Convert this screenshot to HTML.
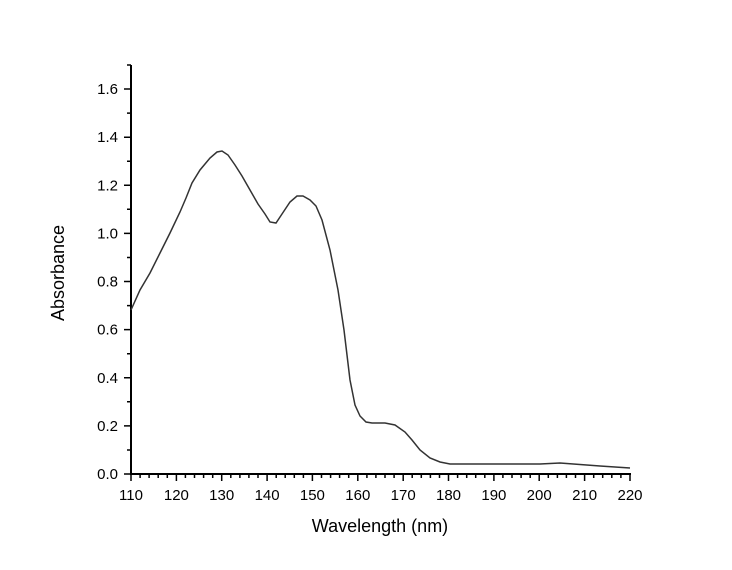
<!DOCTYPE html>
<html><head><style>body{margin:0;background:#fff}svg{display:block}</style></head><body>
<svg width="732" height="570" xmlns="http://www.w3.org/2000/svg" font-family="Liberation Sans, sans-serif">
<rect width="732" height="570" fill="#fff"/>
<g stroke="#000" stroke-width="2" fill="none">
<line x1="131" y1="65" x2="131" y2="475"/>
<line x1="130" y1="474" x2="631" y2="474"/>
</g>
<g stroke="#000" stroke-width="1.5" fill="none">
<path d="M131,474V481M176.4,474V481M221.7,474V481M267.1,474V481M312.4,474V481M357.8,474V481M403.2,474V481M448.5,474V481M493.9,474V481M539.2,474V481M584.6,474V481M630,474V481"/>
<path d="M140.1,474V478M149.1,474V478M158.2,474V478M167.3,474V478M185.4,474V478M194.5,474V478M203.6,474V478M212.7,474V478M230.8,474V478M239.9,474V478M248.9,474V478M258,474V478M276.2,474V478M285.2,474V478M294.3,474V478M303.4,474V478M321.5,474V478M330.6,474V478M339.6,474V478M348.7,474V478M366.9,474V478M375.9,474V478M385,474V478M394.1,474V478M412.2,474V478M421.3,474V478M430.4,474V478M439.5,474V478M457.6,474V478M466.7,474V478M475.7,474V478M484.8,474V478M502.9,474V478M512,474V478M521.1,474V478M530.2,474V478M548.3,474V478M557.4,474V478M566.4,474V478M575.5,474V478M593.7,474V478M602.7,474V478M611.8,474V478M620.9,474V478"/>
<path d="M124,474H131M124,425.9H131M124,377.8H131M124,329.6H131M124,281.5H131M124,233.4H131M124,185.3H131M124,137.2H131M124,89H131"/>
<path d="M127,450H131M127,401.8H131M127,353.7H131M127,305.6H131M127,257.5H131M127,209.3H131M127,161.2H131M127,113.1H131M127,65H131"/>
</g>
<g font-size="15" fill="#000" text-anchor="end">
<text x="118" y="479">0.0</text>
<text x="118" y="430.9">0.2</text>
<text x="118" y="382.8">0.4</text>
<text x="118" y="334.6">0.6</text>
<text x="118" y="286.5">0.8</text>
<text x="118" y="238.4">1.0</text>
<text x="118" y="190.3">1.2</text>
<text x="118" y="142.2">1.4</text>
<text x="118" y="94">1.6</text>
</g>
<g font-size="15" fill="#000" text-anchor="middle">
<text x="131" y="500">110</text><text x="176.4" y="500">120</text><text x="221.7" y="500">130</text><text x="267.1" y="500">140</text><text x="312.4" y="500">150</text><text x="357.8" y="500">160</text><text x="403.2" y="500">170</text><text x="448.5" y="500">180</text><text x="493.9" y="500">190</text><text x="539.2" y="500">200</text><text x="584.6" y="500">210</text><text x="630" y="500">220</text>
</g>
<path d="M131,310 L140,290 L150,273 L160,253 L170,233 L180,212 L186,198 L192,183 L200,170 L210,158 L217,152 L222,151 L228,155 L235,165 L242,176 L250,190 L258,204 L265,214 L270,222 L276,223 L282,214 L290,202 L297,196 L303,196 L310,200 L316,206 L322,220 L330,250 L338,290 L344,330 L350,380 L355,405 L360,416 L366,422 L372,423 L385,423 L395,425 L405,432 L412,440 L420,450 L430,458 L440,462 L450,464 L540,464 L560,463 L600,466 L630,468" fill="none" stroke="#333" stroke-width="1.5"/>
<text x="380" y="532" font-size="18" text-anchor="middle">Wavelength (nm)</text>
<text transform="translate(64,273) rotate(-90)" font-size="18" text-anchor="middle">Absorbance</text>
</svg>
</body></html>
